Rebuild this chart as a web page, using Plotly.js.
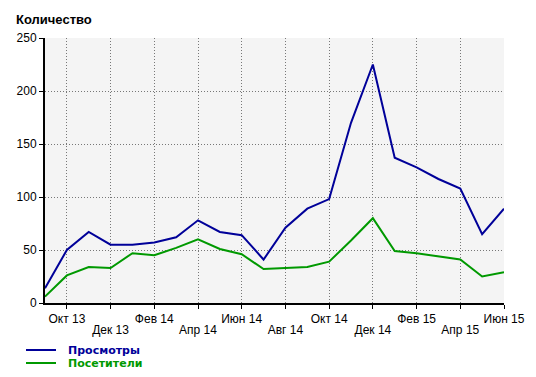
<!DOCTYPE html>
<html><head><meta charset="utf-8">
<script src="https://cdn.plot.ly/plotly-3.0.1.min.js"></script>
<style>body{margin:0;background:#fff}#c{width:536px;height:377px}</style>
</head><body><div id="c"></div>
<script>
const months = ["Сен 13","Окт 13","Ноя 13","Дек 13","Янв 14","Фев 14","Мар 14","Апр 14","Май 14","Июн 14","Июл 14","Авг 14","Сен 14","Окт 14","Ноя 14","Дек 14","Янв 15","Фев 15","Мар 15","Апр 15","Май 15","Июн 15"];
const views    = [14,50,67,55,55,57,62,78,67,64,41,71,89,98,170,225,137,128,117,108,65,89];
const visitors = [6,26,34,33,47,45,52,60,51,46,32,33,34,39,59,80,49,47,44,41,25,29];
const tickLabels = ["Окт 13","Дек 13","Фев 14","Апр 14","Июн 14","Авг 14","Окт 14","Дек 14","Фев 15","Апр 15","Июн 15"];
const seriesNames = ["Просмотры","Посетители"];
const colors = ["#000099","#009900"];

const idx = months.map((m,i)=>i);
const tickVals = tickLabels.map(t=>months.indexOf(t));
const upperText = tickLabels.map((t,i)=> i%2===0 ? t : "");
const lowerVals = tickVals.filter((v,i)=>i%2===1);
const lowerText = tickLabels.filter((t,i)=>i%2===1);

// views drawn on x (upper tick row), visitors on x2 (same range, lower tick row)
const traces = [views, visitors].map((ys,k)=>({
  x: idx, y: ys, type:'scatter', mode:'lines',
  xaxis: k===0 ? 'x' : 'x2',
  line:{color:colors[k], width:2},
  name:seriesNames[k], hoverinfo:'skip'
}));

// custom legend (container pixel geometry)
const W=536, H=377;
const legTop=350, legStep=13;
const shapes = seriesNames.map((n,k)=>({
  type:'line', xref:'paper', yref:'paper',
  x0:(26-45)/459, x1:(56-45)/459,
  y0:(303-(legTop+k*legStep))/265, y1:(303-(legTop+k*legStep))/265,
  line:{color:colors[k], width:2}
}));
const annotations = seriesNames.map((n,k)=>({
  xref:'paper', yref:'paper', x:(66-45)/459, y:(303-(legTop+k*legStep))/265,
  xanchor:'left', yanchor:'middle', showarrow:false,
  text:'<b>'+n+'</b>', font:{family:'DejaVu Sans, sans-serif', size:11, color:colors[k]}
}));

const layout = {
  width:W, height:H,
  paper_bgcolor:'#ffffff', plot_bgcolor:'#f4f4f4',
  margin:{l:45, r:32, t:38, b:74, autoexpand:false},
  font:{family:'Liberation Sans, Arial, sans-serif', size:12, color:'#000'},
  title:{text:'<b>Количество</b>', x:16/W, xanchor:'left', xref:'container', y:1-19/H, yanchor:'middle', yref:'container', font:{size:13, color:'#000'}},
  xaxis:{range:[0,21], tickvals:tickVals, ticktext:upperText, tickangle:0, automargin:false,
    showgrid:true, gridcolor:'#777', griddash:'1px,2px', gridwidth:1,
    showline:true, linecolor:'#000', linewidth:2, ticks:'outside', ticklen:4, tickcolor:'#000',
    zeroline:false, fixedrange:true},
  xaxis2:{range:[0,21], overlaying:'x', anchor:'y', side:'bottom', tickvals:lowerVals, ticktext:lowerText,
    tickangle:0, automargin:false, showgrid:false, showline:false,
    ticks:'outside', ticklen:16, tickcolor:'rgba(0,0,0,0)', zeroline:false, fixedrange:true},
  yaxis:{range:[0,250], tickvals:[0,50,100,150,200,250], automargin:false,
    showgrid:true, gridcolor:'#777', griddash:'1px,2px', gridwidth:1,
    showline:true, linecolor:'#000', linewidth:2, ticks:'outside', ticklen:4, tickcolor:'#000',
    zeroline:false, fixedrange:true},
  showlegend:false,
  shapes:shapes, annotations:annotations
};
Plotly.newPlot('c', traces, layout, {staticPlot:true, displayModeBar:false});
</script></body></html>
